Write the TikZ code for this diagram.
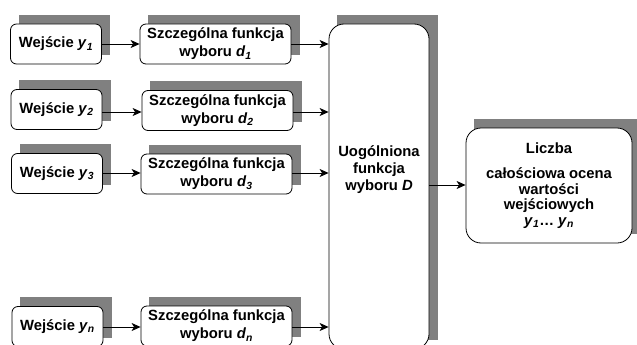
\documentclass[tikz,border=0pt]{standalone}
\usepackage{fontspec}
\setmainfont{Liberation Sans}
\usetikzlibrary{arrows.meta,backgrounds}
\definecolor{shadowgray}{HTML}{808080}
\newcommand{\yv}[1]{\textit{y}\textsubscript{\textit{#1}}}
\newcommand{\dv}[1]{\textit{d}\textsubscript{\textit{#1}}}
\begin{document}
\begin{tikzpicture}[x=1pt,y=-1pt,
  box/.style={draw=black, line width=0.8pt, fill=white, rounded corners=6pt,
    font=\fontsize{14.8}{18}\selectfont\bfseries, align=center, inner sep=0pt},
  inbox/.style={box, minimum width=91pt, minimum height=40pt},
  sdbox/.style={box, minimum width=151pt, minimum height=40pt},
  shade/.style={fill=shadowgray},
  conn/.style={draw=black, line width=0.8pt, -{Stealth[length=9pt,width=8pt,inset=2.5pt]}},
  txt/.style={font=\fontsize{14.8}{17}\selectfont\bfseries, align=center, inner sep=0pt}]
\useasboundingbox (0,0) rectangle (637,345);
% inputs
\node[inbox] (in1) at (56,44) {Wejście \yv{1}};
\node[inbox] (in2) at (56.5,109.5) {Wejście \yv{2}};
\node[inbox] (in3) at (57,173.5) {Wejście \yv{3}};
\node[inbox] (inn) at (57.5,326.5) {Wejście \yv{n}};
% specific functions
\node[sdbox] (sd1) at (215.5,44) {Szczególna funkcja\\wyboru \dv{1}};
\node[sdbox] (sd2) at (217.5,110.5) {Szczególna funkcja\\wyboru \dv{2}};
\node[sdbox] (sd3) at (216.5,174) {Szczególna funkcja\\wyboru \dv{3}};
\node[sdbox] (sdn) at (216.5,326) {Szczególna funkcja\\wyboru \dv{n}};
% general function
\node[box, rounded corners=15pt, minimum width=100pt, minimum height=325pt] (D) at (379,186.5) {};
\node[txt] (Dtxt) at (379,170) {Uogólniona\\funkcja\\wyboru \textit{D}};
% output
\node[box, rounded corners=15pt, minimum width=166pt, minimum height=115pt,
  font=\fontsize{14.8}{15.5}\selectfont\bfseries] (out) at (549,185.5)
  {Liczba\\[10pt]całościowa ocena\\wartości\\wejściowych\\\yv{1}\dots\ \yv{n}};
% shadows
\begin{pgfonlayer}{background}
\foreach \n in {in1,in2,in3,inn,sd1,sd2,sd3,sdn,D,out}
  \fill[shade] ([shift={(8.5,-9)}]\n.south west) rectangle ([shift={(8.5,-9)}]\n.north east);
\end{pgfonlayer}
% connectors
\draw[conn] (in1) -- (sd1);
\draw[conn] (in2.east |- 0,112) -- (sd2.west |- 0,112);
\draw[conn] (in3.east |- 0,173) -- (sd3.west |- 0,173);
\draw[conn] (inn.east |- 0,327) -- (sdn.west |- 0,327);
\draw[conn] (sd1.east) -- (sd1.east -| D.west);
\draw[conn] (sd2.east |- 0,112) -- (D.west |- 0,112);
\draw[conn] (sd3.east |- 0,173) -- (D.west |- 0,173);
\draw[conn] (sdn.east |- 0,327) -- (D.west |- 0,327);
\draw[conn] (D.east |- 0,185) -- (out.west |- 0,185);
\end{tikzpicture}
\end{document}
